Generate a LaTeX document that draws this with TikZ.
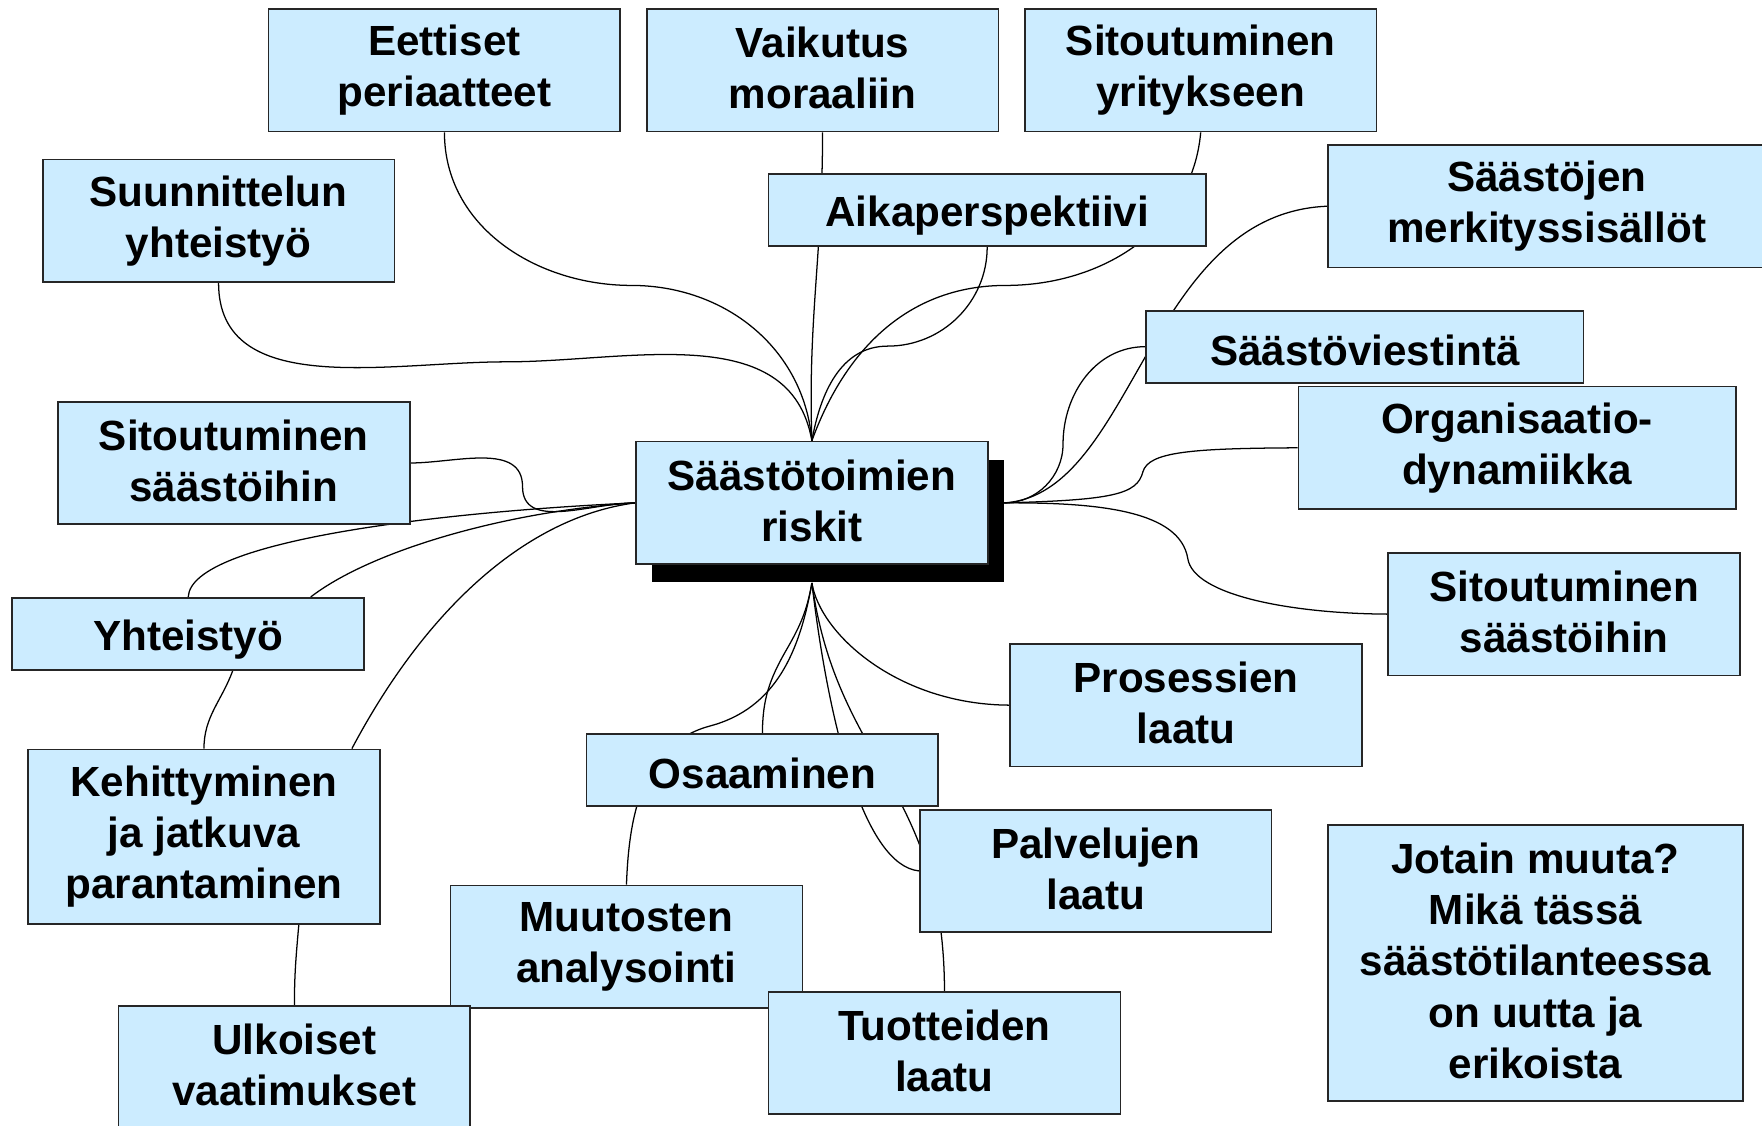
\documentclass[tikz,border=0pt]{standalone}
\usepackage{fontspec}
\setmainfont{Liberation Sans}
\usetikzlibrary{positioning}
\usetikzlibrary{shadows}
\usetikzlibrary{backgrounds}
\definecolor{boxblue}{RGB}{204,236,255}
\newcommand{\linestrut}{\rule[-0.119em]{0pt}{1.117em}}
\tikzset{	topic/.style={
		draw=black!85,
		line width=1.1pt,
		fill=boxblue,
		align=center,
		inner sep=0pt,
		minimum width=7.825cm,
		minimum height=2.725cm,
		execute at begin node=\linestrut,
		execute at end node=\linestrut,
		font=\bfseries\fontsize{26.7}{32.4}\selectfont},
	oneline/.style={minimum height=1.6cm},
	longer/.style={minimum width=9.725cm},
	link/.style={
		draw,
		line width=0.8pt}
}

\begin{document}
\begin{tikzpicture}[x=0.025cm, y=-0.025cm]
					\path[use as bounding box] (0,0) rectangle (1568,1002);
					\clip (0,0) rectangle (1568,1002);
					\node[topic, drop shadow={shadow xshift=0.35cm, shadow yshift=-0.4cm, fill=black, opacity=1}] (cen) at (722.5,447.5) {Säästötoimien\\riskit};
					\node[topic] (eet) at (395.5,62.5) {Eettiset\\periaatteet};
					\node[topic] (vai) at (732,62.5) {Vaikutus\\moraaliin};
					\node[topic] (yri) at (1068.5,62.5) {Sitoutuminen\\yritykseen};
					\node[topic] (suu) at (194.5,196.5) {Suunnittelun\\yhteistyö};
					\node[topic, oneline, longer] (aika) at (878.5,187) {Aikaperspektiivi};
					\node[topic, longer] (mer) at (1376.5,183.5) {Säästöjen\\merkityssisällöt};
					\node[topic, oneline, longer] (via) at (1214.5,308.5) {Säästöviestintä};
					\node[topic, longer] (org) at (1350,398.5) {Organisaatio-\\dynamiikka};
					\node[topic] (sitL) at (208,412) {Sitoutuminen\\säästöihin};
					\node[topic, oneline] (yht) at (167.5,564) {Yhteistyö};
					\node[topic] (sitR) at (1392,546.5) {Sitoutuminen\\säästöihin};
					\node[topic] (pro) at (1055.5,627.5) {Prosessien\\laatu};
					\node[topic, oneline] (osa) at (678.5,685.5) {Osaaminen};
					\node[topic, minimum height=3.875cm] (keh) at (181.5,744.5) {Kehittyminen\\ja jatkuva\\parantaminen};
					\node[topic] (pal) at (975,775) {Palvelujen\\laatu};
					\node[topic, minimum width=9.225cm, minimum height=6.15cm] (jot) at (1366.5,857) {Jotain muuta?\\Mikä tässä\\säästötilanteessa\\on uutta ja\\erikoista};
					\node[topic] (muu) at (557.5,842.5) {Muutosten\\analysointi};
					\node[topic] (tuo) at (840.5,937) {Tuotteiden\\laatu};
					\node[topic] (ulk) at (262,949.5) {Ulkoiset\\vaatimukset};
					\coordinate (hubT) at (cen.north);
					\coordinate (hubL) at (cen.west);
					\coordinate (hubR) at ([xshift=0.35cm]cen.east);
					\coordinate (hubB) at ([yshift=-0.4cm]cen.south);
					\begin{pgfonlayer}{background}
					\path[link] (eet.south) to[out=-90,in=180] (562,254) to[out=0,in=95] (hubT);
					\path[link] (vai.south) to[out=-90,in=92] (hubT);
					\path[link] (yri.south) to[out=-95,in=0] (895,254) to[out=180,in=70] (hubT);
					\path[link] (aika.south) to[out=-90,in=0] (790,308) to[out=180,in=80] (hubT);
					\path[link] (suu.south) to[out=-90,in=180] (450,322) to[out=0,in=100] (hubT);
					\path[link] (sitL.east) to[out=0,in=90] (465,433) to[out=-90,in=180] (hubL);
					\path[link] (yht.north) .. controls (170,480) and (400,455) .. (hubL);
					\path[link] ([xshift=2.725cm]yht.north) .. controls (330,490) and (450,455) .. (hubL);
					\path[link] ([xshift=3.29cm]keh.north) .. controls (380,540) and (470,460) .. (hubL);
					\path[link] ([xshift=0.99cm]yht.south) to[out=-110,in=90] (keh.north);
					\path[link] ([xshift=2.11cm]keh.south) to[out=-95,in=90] (ulk.north);
					\path[link] (hubB) to[out=-100,in=60] (700,578) to[out=-120,in=90] (osa.north);
					\path[link] (hubB) to[out=-100,in=15] (632,646) to[out=195,in=88] (muu.north);
					\path[link] (hubB) .. controls (730,565) and (800,627) .. (pro.west);
					\path[link] (hubB) .. controls (738,650) and (770,770) .. (pal.west);
					\path[link] (hubB) .. controls (745,680) and (840,700) .. (tuo.north);
					\path[link] (hubR) .. controls (1010,440) and (1020,190) .. (mer.west);
					\path[link] (hubR) to[out=0,in=-90] (946,395) to[out=90,in=180] (via.west);
					\path[link] (hubR) .. controls (990,445) and (1012,440) .. (1017,420) .. controls (1022,402) and (1060,399) .. (org.west);
					\path[link] (hubR) .. controls (980,447) and (1050,455) .. (1057,497) .. controls (1062,530) and (1150,546) .. (sitR.west);
					\end{pgfonlayer}
				\end{tikzpicture}
\end{document}
